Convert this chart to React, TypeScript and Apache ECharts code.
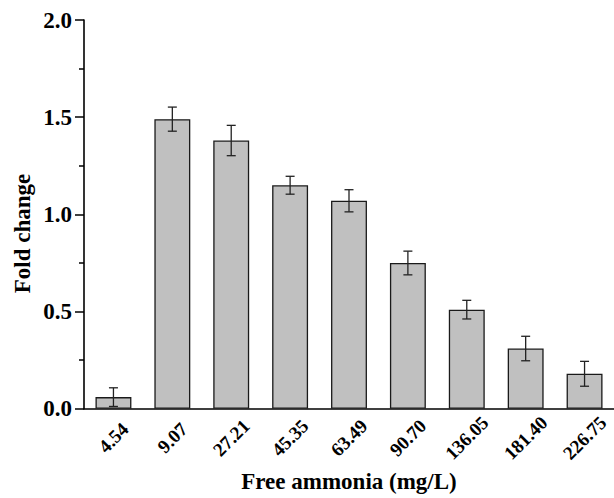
import React, { useEffect, useRef } from "react";
import * as echarts from "echarts";

const categories = ["4.54", "9.07", "27.21", "45.35", "63.49", "90.70", "136.05", "181.40", "226.75"];
const foldChange = [0.06, 1.49, 1.38, 1.15, 1.07, 0.75, 0.51, 0.31, 0.18];
const errors = [0.048, 0.062, 0.078, 0.046, 0.057, 0.061, 0.048, 0.063, 0.064];
const yTicks = { min: 0, max: 2, interval: 0.5 };

const FONT = "'Liberation Serif', 'Times New Roman', serif";

export default function App() {
  const ref = useRef<HTMLDivElement>(null);
  useEffect(() => {
    if (!ref.current) return;
    const chart = echarts.init(ref.current, null, { renderer: "svg" });
    const errData = foldChange.map((v, i) => [i, v - errors[i], v + errors[i]]);
    chart.setOption({
      animation: false,
      backgroundColor: "#ffffff",
      grid: { left: 84, right: 0, top: 20, bottom: 85.5, containLabel: false },
      xAxis: {
        type: "category",
        data: categories,
        axisLine: { show: true, lineStyle: { color: "#000", width: 1.6 } },
        axisTick: { show: false },
        axisLabel: {
          rotate: 45,
          align: "center",
          verticalAlign: "middle",
          margin: 29,
          fontFamily: FONT,
          fontWeight: "bold",
          fontSize: 19,
          color: "#000",
        },
        name: "Free ammonia (mg/L)",
        nameLocation: "middle",
        nameGap: 59,
        nameTextStyle: { fontFamily: FONT, fontWeight: "bold", fontSize: 23, color: "#000" },
      },
      yAxis: {
        type: "value",
        min: yTicks.min,
        max: yTicks.max,
        interval: yTicks.interval,
        splitLine: { show: false },
        axisLine: { show: true, lineStyle: { color: "#000", width: 1.6 } },
        axisTick: { show: true, inside: false, length: 9, lineStyle: { color: "#000", width: 1.5 } },
        minorTick: { show: true, splitNumber: 2, length: 5, lineStyle: { color: "#000", width: 1.5 } },
        axisLabel: {
          margin: 12,
          fontFamily: FONT,
          fontWeight: "bold",
          fontSize: 23,
          color: "#000",
          formatter: (v: number) => v.toFixed(1),
        },
      },
      graphic: [
        {
          type: "text",
          x: 22,
          y: 233.5,
          rotation: Math.PI / 2,
          style: {
            text: "Fold change",
            fontFamily: FONT,
            fontWeight: "bold",
            fontSize: 23,
            fill: "#000",
            align: "center",
            verticalAlign: "middle",
          },
        },
      ],
      series: [
        {
          type: "bar",
          data: foldChange,
          barWidth: "61%",
          itemStyle: { color: "#c0c0c0", borderColor: "#1a1a1a", borderWidth: 1.3 },
          z: 2,
        },
        {
          type: "custom",
          data: errData,
          z: 5,
          renderItem: (params: any, api: any) => {
            const i = api.value(0);
            const lo = api.coord([i, api.value(1)]);
            const hi = api.coord([i, api.value(2)]);
            const half = 4.5;
            const style = { stroke: "#222", lineWidth: 1.3 };
            return {
              type: "group",
              children: [
                { type: "line", shape: { x1: hi[0], y1: hi[1], x2: lo[0], y2: lo[1] }, style },
                { type: "line", shape: { x1: hi[0] - half, y1: hi[1], x2: hi[0] + half, y2: hi[1] }, style },
                { type: "line", shape: { x1: lo[0] - half, y1: lo[1], x2: lo[0] + half, y2: lo[1] }, style },
              ],
            };
          },
        },
      ],
    });
    return () => chart.dispose();
  }, []);
  return <div ref={ref} style={{ position: "fixed", left: 0, top: 0, width: 614, height: 498 }} />;
}
